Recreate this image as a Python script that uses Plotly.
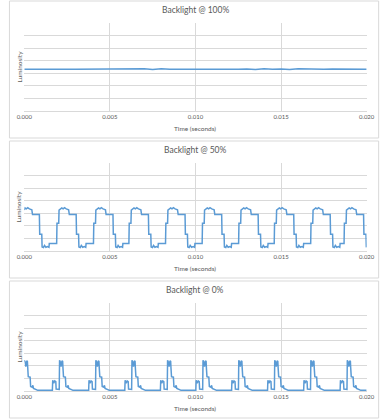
import plotly.graph_objects as go

# ---------------- data (times in milliseconds) ----------------
t100_ms = [0.0, 0.5, 1.0, 1.5, 2.0, 2.5, 3.0, 3.5, 4.0, 4.5, 5.0, 5.5, 6.0, 6.5, 7.0,
           7.5, 8.0, 8.5, 9.0, 9.5, 10.0, 10.5, 11.0, 11.5, 12.0, 12.5, 13.0, 13.5,
           14.0, 14.5, 15.0, 15.5, 16.0, 16.5, 17.0, 17.5, 18.0, 18.5, 19.0, 19.5, 20.0]
lum100 = [3.33, 3.34, 3.32, 3.33, 3.35, 3.33, 3.32, 3.33, 3.34, 3.33, 3.33, 3.32, 3.33,
          3.34, 3.36, 3.31, 3.37, 3.32, 3.35, 3.33, 3.33, 3.32, 3.33, 3.34, 3.33, 3.33,
          3.35, 3.31, 3.36, 3.32, 3.35, 3.31, 3.36, 3.33, 3.35, 3.32, 3.34, 3.33, 3.34,
          3.32, 3.33]

t50_ms = [
    0.00, 0.04, 0.12, 0.20, 0.30, 0.44, 0.48, 0.88, 0.90, 1.02, 1.04, 1.12, 1.18, 1.26, 1.36, 1.44, 1.46,
    1.89, 1.91, 2.01, 2.03, 2.11, 2.19, 2.27, 2.35, 2.45, 2.59, 2.63, 3.03, 3.05, 3.17, 3.19, 3.27, 3.33, 3.41, 3.51, 3.59, 3.61,
    4.04, 4.06, 4.16, 4.18, 4.26, 4.34, 4.42, 4.50, 4.60, 4.74, 4.78, 5.18, 5.20, 5.32, 5.34, 5.42, 5.48, 5.56, 5.66, 5.74, 5.76,
    6.11, 6.13, 6.23, 6.25, 6.33, 6.41, 6.49, 6.57, 6.67, 6.81, 6.85, 7.25, 7.27, 7.39, 7.41, 7.49, 7.55, 7.63, 7.73, 7.81, 7.83,
    8.25, 8.27, 8.37, 8.39, 8.47, 8.55, 8.63, 8.71, 8.81, 8.95, 8.99, 9.39, 9.41, 9.53, 9.55, 9.63, 9.69, 9.77, 9.87, 9.95, 9.97,
    10.39, 10.41, 10.51, 10.53, 10.61, 10.69, 10.77, 10.85, 10.95, 11.09, 11.13, 11.53, 11.55, 11.67, 11.69, 11.77, 11.83, 11.91, 12.01, 12.09, 12.11,
    12.52, 12.54, 12.64, 12.66, 12.74, 12.82, 12.90, 12.98, 13.08, 13.22, 13.26, 13.66, 13.68, 13.80, 13.82, 13.90, 13.96, 14.04, 14.14, 14.22, 14.24,
    14.60, 14.62, 14.72, 14.74, 14.82, 14.90, 14.98, 15.06, 15.16, 15.30, 15.34, 15.74, 15.76, 15.88, 15.90, 15.98, 16.04, 16.12, 16.22, 16.30, 16.32,
    16.73, 16.75, 16.85, 16.87, 16.95, 17.03, 17.11, 17.19, 17.29, 17.43, 17.47, 17.87, 17.89, 18.01, 18.03, 18.11, 18.17, 18.25, 18.35, 18.43, 18.45,
    18.68, 18.70, 18.80, 18.82, 18.90, 18.98, 19.06, 19.14, 19.24, 19.38, 19.42, 19.82, 19.84, 19.96, 19.98, 20.00,
]
lum50 = [
    3.25, 3.42, 3.35, 3.44, 3.35, 3.28, 2.90, 2.90, 1.33, 1.33, 0.32, 0.28, 0.45, 0.30, 0.36, 0.30, 0.60,
    0.60, 2.20, 2.20, 3.25, 3.35, 3.42, 3.35, 3.44, 3.35, 3.28, 2.90, 2.90, 1.33, 1.33, 0.32, 0.28, 0.45, 0.30, 0.36, 0.30, 0.60,
    0.60, 2.20, 2.20, 3.25, 3.35, 3.42, 3.35, 3.44, 3.35, 3.28, 2.90, 2.90, 1.33, 1.33, 0.32, 0.28, 0.45, 0.30, 0.36, 0.30, 0.60,
    0.60, 2.20, 2.20, 3.25, 3.35, 3.42, 3.35, 3.44, 3.35, 3.28, 2.90, 2.90, 1.33, 1.33, 0.32, 0.28, 0.45, 0.30, 0.36, 0.30, 0.60,
    0.60, 2.20, 2.20, 3.25, 3.35, 3.42, 3.35, 3.44, 3.35, 3.28, 2.90, 2.90, 1.33, 1.33, 0.32, 0.28, 0.45, 0.30, 0.36, 0.30, 0.60,
    0.60, 2.20, 2.20, 3.25, 3.35, 3.42, 3.35, 3.44, 3.35, 3.28, 2.90, 2.90, 1.33, 1.33, 0.32, 0.28, 0.45, 0.30, 0.36, 0.30, 0.60,
    0.60, 2.20, 2.20, 3.25, 3.35, 3.42, 3.35, 3.44, 3.35, 3.28, 2.90, 2.90, 1.33, 1.33, 0.32, 0.28, 0.45, 0.30, 0.36, 0.30, 0.60,
    0.60, 2.20, 2.20, 3.25, 3.35, 3.42, 3.35, 3.44, 3.35, 3.28, 2.90, 2.90, 1.33, 1.33, 0.32, 0.28, 0.45, 0.30, 0.36, 0.30, 0.60,
    0.60, 2.20, 2.20, 3.25, 3.35, 3.42, 3.35, 3.44, 3.35, 3.28, 2.90, 2.90, 1.33, 1.33, 0.32, 0.28, 0.45, 0.30, 0.36, 0.30, 0.60,
    0.60, 2.20, 2.20, 3.25, 3.35, 3.42, 3.35, 3.44, 3.35, 3.28, 2.90, 2.90, 1.33, 1.33, 0.32, 0.30,
]

t0_ms = [
    0.00, 0.05, 0.09, 0.14, 0.18, 0.20, 0.23, 0.34, 0.37, 0.46, 0.50, 0.54, 0.62, 0.70, 0.80,
    1.64, 1.66, 1.72, 1.78, 1.84, 1.86, 2.04, 2.06, 2.11, 2.15, 2.20, 2.24, 2.26, 2.29, 2.40, 2.43, 2.52, 2.56, 2.60, 2.68, 2.76, 2.86,
    3.76, 3.78, 3.84, 3.90, 3.96, 3.98, 4.16, 4.18, 4.23, 4.27, 4.32, 4.36, 4.38, 4.41, 4.52, 4.55, 4.64, 4.68, 4.72, 4.80, 4.88, 4.98,
    5.87, 5.89, 5.95, 6.01, 6.07, 6.09, 6.27, 6.29, 6.34, 6.38, 6.43, 6.47, 6.49, 6.52, 6.63, 6.66, 6.75, 6.79, 6.83, 6.91, 6.99, 7.09,
    7.95, 7.97, 8.03, 8.09, 8.15, 8.17, 8.35, 8.37, 8.42, 8.46, 8.51, 8.55, 8.57, 8.60, 8.71, 8.74, 8.83, 8.87, 8.91, 8.99, 9.07, 9.17,
    10.02, 10.04, 10.10, 10.16, 10.22, 10.24, 10.42, 10.44, 10.49, 10.53, 10.58, 10.62, 10.64, 10.67, 10.78, 10.81, 10.90, 10.94, 10.98, 11.06, 11.14, 11.24,
    12.11, 12.13, 12.19, 12.25, 12.31, 12.33, 12.51, 12.53, 12.58, 12.62, 12.67, 12.71, 12.73, 12.76, 12.87, 12.90, 12.99, 13.03, 13.07, 13.15, 13.23, 13.33,
    14.21, 14.23, 14.29, 14.35, 14.41, 14.43, 14.61, 14.63, 14.68, 14.72, 14.77, 14.81, 14.83, 14.86, 14.97, 15.00, 15.09, 15.13, 15.17, 15.25, 15.33, 15.43,
    16.32, 16.34, 16.40, 16.46, 16.52, 16.54, 16.72, 16.74, 16.79, 16.83, 16.88, 16.92, 16.94, 16.97, 17.08, 17.11, 17.20, 17.24, 17.28, 17.36, 17.44, 17.54,
    18.45, 18.47, 18.53, 18.59, 18.65, 18.67, 18.85, 18.87, 18.92, 18.96, 19.01, 19.05, 19.07, 19.10, 19.21, 19.24, 19.33, 19.37, 19.41, 19.49, 19.57, 19.67,
    20.00,
]
lum0 = [
    2.45, 2.30, 1.93, 2.40, 2.35, 1.80, 1.14, 1.10, 0.35, 0.30, 0.45, 0.20, 0.15, 0.08, 0.05,
    0.06, 0.85, 0.62, 0.80, 0.75, 0.15, 0.12, 2.45, 2.30, 1.93, 2.40, 2.35, 1.80, 1.14, 1.10, 0.35, 0.30, 0.45, 0.20, 0.15, 0.08, 0.05,
    0.06, 0.85, 0.62, 0.80, 0.75, 0.15, 0.12, 2.45, 2.30, 1.93, 2.40, 2.35, 1.80, 1.14, 1.10, 0.35, 0.30, 0.45, 0.20, 0.15, 0.08, 0.05,
    0.06, 0.85, 0.62, 0.80, 0.75, 0.15, 0.12, 2.45, 2.30, 1.93, 2.40, 2.35, 1.80, 1.14, 1.10, 0.35, 0.30, 0.45, 0.20, 0.15, 0.08, 0.05,
    0.06, 0.85, 0.62, 0.80, 0.75, 0.15, 0.12, 2.45, 2.30, 1.93, 2.40, 2.35, 1.80, 1.14, 1.10, 0.35, 0.30, 0.45, 0.20, 0.15, 0.08, 0.05,
    0.06, 0.85, 0.62, 0.80, 0.75, 0.15, 0.12, 2.45, 2.30, 1.93, 2.40, 2.35, 1.80, 1.14, 1.10, 0.35, 0.30, 0.45, 0.20, 0.15, 0.08, 0.05,
    0.06, 0.85, 0.62, 0.80, 0.75, 0.15, 0.12, 2.45, 2.30, 1.93, 2.40, 2.35, 1.80, 1.14, 1.10, 0.35, 0.30, 0.45, 0.20, 0.15, 0.08, 0.05,
    0.06, 0.85, 0.62, 0.80, 0.75, 0.15, 0.12, 2.45, 2.30, 1.93, 2.40, 2.35, 1.80, 1.14, 1.10, 0.35, 0.30, 0.45, 0.20, 0.15, 0.08, 0.05,
    0.06, 0.85, 0.62, 0.80, 0.75, 0.15, 0.12, 2.45, 2.30, 1.93, 2.40, 2.35, 1.80, 1.14, 1.10, 0.35, 0.30, 0.45, 0.20, 0.15, 0.08, 0.05,
    0.06, 0.85, 0.62, 0.80, 0.75, 0.15, 0.12, 2.45, 2.30, 1.93, 2.40, 2.35, 1.80, 1.14, 1.10, 0.35, 0.30, 0.45, 0.20, 0.15, 0.08, 0.05,
    0.05,
]

titles = ["Backlight @ 100%", "Backlight @ 50%", "Backlight @ 0%"]
x_title = "Time (seconds)"
y_title = "Luminosity"
x_ticks = [0.000, 0.005, 0.010, 0.015, 0.020]

# ---------------- layout ----------------
W, H = 390, 419
LINE = "#5b9bd5"
GRID = "#d9d9d9"
TXT = "#595959"
FONT = "Lato"

series = [(t100_ms, lum100), (t50_ms, lum50), (t0_ms, lum0)]
panel_top = [1, 141, 281]      # pixel top of each chart border
plot_top_off = 22              # plot area top relative to panel top
plot_h = 88
plot_x0, plot_x1 = 17, 374

def py(p):
    return 1 - p / H

fig = go.Figure()
shapes = []
annotations = []
for i, ((tms, lum), title) in enumerate(zip(series, titles)):
    n = "" if i == 0 else str(i + 1)
    top = panel_top[i] + plot_top_off
    bot = top + plot_h
    fig.add_trace(go.Scatter(
        x=[t / 1000 for t in tms], y=lum, mode="lines",
        line=dict(color=LINE, width=1.5), xaxis="x" + n, yaxis="y" + n,
        showlegend=False, hoverinfo="skip"))
    fig.update_layout(**{
        "xaxis" + n: dict(domain=[plot_x0 / W, plot_x1 / W], anchor="y" + n,
                          range=[0, 0.02], tickvals=x_ticks, tickformat=".3f",
                          showgrid=True, gridcolor=GRID, gridwidth=1,
                          zeroline=False, showline=True, linecolor=GRID,
                          ticks="", tickfont=dict(size=6, color=TXT, family=FONT)),
        "yaxis" + n: dict(domain=[py(bot), py(top)], anchor="x" + n,
                          range=[0, 7], dtick=1, showgrid=True, gridcolor=GRID,
                          gridwidth=1, zeroline=False, showticklabels=False,
                          showline=False, ticks=""),
    })
    shapes.append(dict(type="rect", xref="paper", yref="paper",
                       x0=1.5 / W, x1=386.5 / W,
                       y0=py(panel_top[i] + 137), y1=py(panel_top[i]),
                       line=dict(color=GRID, width=1), layer="below"))
    annotations.append(dict(text=title, xref="paper", yref="paper",
                            x=195 / W, y=py(panel_top[i] + 9), showarrow=False,
                            xanchor="center", yanchor="middle",
                            font=dict(size=8.5, color=TXT, family=FONT)))
    annotations.append(dict(text=x_title, xref="paper", yref="paper",
                            x=(plot_x0 + plot_x1) / 2 / W, y=py(bot + 17),
                            showarrow=False, xanchor="center", yanchor="middle",
                            font=dict(size=6.5, color=TXT, family=FONT)))
    annotations.append(dict(text=y_title, xref="paper", yref="paper",
                            x=11 / W, y=py((top + bot) / 2), textangle=-90,
                            showarrow=False, xanchor="center", yanchor="middle",
                            font=dict(size=6.5, color=TXT, family=FONT)))

fig.update_layout(width=W, height=H, margin=dict(l=0, r=0, t=0, b=0),
                  paper_bgcolor="white", plot_bgcolor="white",
                  shapes=shapes, annotations=annotations)
fig.write_html("out.html", config={"displayModeBar": False},
               post_script="document.body.style.margin='0';document.body.style.overflow='hidden';")
